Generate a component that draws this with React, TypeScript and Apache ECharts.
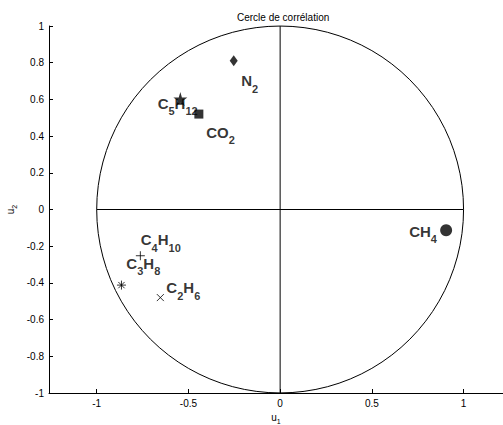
import React, { useEffect, useRef } from "react";
import * as echarts from "echarts";

// ---- data ----
const compounds = ["CH4", "N2", "CO2", "C2H6", "C3H8", "C4H10", "C5H12"];
const labelsRich = [
  "{m|CH}{s|4}",
  "{m|N}{s|2}",
  "{m|CO}{s|2}",
  "{m|C}{s|2}{m|H}{s|6}",
  "{m|C}{s|3}{m|H}{s|8}",
  "{m|C}{s|4}{m|H}{s|10}",
  "{m|C}{s|5}{m|H}{s|12}",
];
const u1 = [0.905, -0.253, -0.443, -0.653, -0.762, -0.865, -0.544];
const u2 = [-0.113, 0.81, 0.52, -0.48, -0.252, -0.412, 0.602];
const xTicks = [-1, -0.5, 0, 0.5, 1];
const circleData = [[0, 0, 1]];
const hLine = [[-1, 0], [1, 0]];
const vLine = [[0, -1], [0, 1]];

// ---- styles ----
const STAR = "path://M50,0 L61,35 L98,35 L68,57 L79,91 L50,70 L21,91 L32,57 L2,35 L39,35 Z";
const PLUS = "path://M5,0 L5,10 M0,5 L10,5";
const CROSS = "path://M0,0 L10,10 M0,10 L10,0";
const ASTER = "path://M5,0 L5,10 M0,5 L10,5 M1.5,1.5 L8.5,8.5 M1.5,8.5 L8.5,1.5";
const markerStyle: Record<string, any> = {
  CH4: { symbol: "circle", size: 12, filled: true, offset: [-37, 5] },
  N2: { symbol: "diamond", size: [8, 11], filled: true, offset: [7.5, 24] },
  CO2: { symbol: "rect", size: 9, filled: true, offset: [7.4, 22.4] },
  C2H6: { symbol: CROSS, size: 7, filled: false, offset: [6, -5.7] },
  C3H8: { symbol: PLUS, size: 9, filled: false, offset: [-14, 11.5] },
  C4H10: { symbol: ASTER, size: 9, filled: false, offset: [19.3, -41.6] },
  C5H12: { symbol: STAR, size: 14, filled: true, offset: [-22.7, 8.2] },
};

const FONT = "Liberation Sans, Arial, Helvetica, sans-serif";

const bigRich = {
  m: {
    fontSize: 15,
    fontWeight: "bold",
    fontFamily: FONT,
    color: "#000",
    lineHeight: 16,
    padding: [0, 0, 8, 0],
  },
  s: {
    fontSize: 11,
    fontWeight: "bold",
    fontFamily: FONT,
    color: "#000",
    lineHeight: 12,
    padding: [8, 0, 0, 0],
  },
};

const smallRich = {
  m: { fontSize: 10, color: "#000", fontFamily: FONT, lineHeight: 11, padding: [0, 0, 4, 0] },
  s: { fontSize: 7, color: "#000", fontFamily: FONT, lineHeight: 8, padding: [4, 0, 0, 0] },
};

export default function App() {
  const ref = useRef<HTMLDivElement>(null);
  useEffect(() => {
    document.body.style.margin = "0";
    if (!ref.current) return;
    const chart = echarts.init(ref.current, undefined, { renderer: "svg" });

    const scatterSeries = compounds.map((name, i) => {
      const st = markerStyle[name];
      return {
        type: "scatter",
        name,
        symbol: st.symbol,
        symbolSize: st.size,
        itemStyle: st.filled
          ? { color: "#000" }
          : { color: "none", borderColor: "#000", borderWidth: 1 },
        data: [[u1[i], u2[i]]],
        label: {
          show: true,
          position: "inside",
          align: "left",
          verticalAlign: "middle",
          offset: st.offset,
          formatter: labelsRich[i],
          color: "#000",
          rich: bigRich,
        },
        z: 5,
      };
    });

    chart.setOption({
      animation: false,
      backgroundColor: "#fff",
      textStyle: { fontFamily: FONT },
      title: {
        text: "Cercle de corrélation",
        left: 232,
        top: 7,
        textStyle: { fontSize: 10, fontWeight: "normal", color: "#000", fontFamily: FONT },
      },
      grid: { left: 49, right: 0, top: 26, bottom: 32, outerBoundsMode: "none", containLabel: false },
      xAxis: {
        type: "value",
        min: -1.26,
        max: 1.215,
        name: "{m|u}{s|1}",
        nameLocation: "middle",
        nameGap: 21,
        nameMoveOverlap: false,
        nameTextStyle: { rich: smallRich },
        axisLine: { onZero: false, lineStyle: { color: "#000", width: 1 } },
        axisTick: { inside: true, length: 4, lineStyle: { color: "#000" }, customValues: xTicks },
        axisLabel: { color: "#000", fontSize: 10, margin: 5, customValues: xTicks, fontFamily: FONT },
        splitLine: { show: false },
      },
      yAxis: {
        type: "value",
        min: -1,
        max: 1,
        interval: 0.2,
        name: "{m|u}{s|2}",
        nameLocation: "middle",
        nameGap: 31,
        nameMoveOverlap: false,
        nameTextStyle: { rich: smallRich },
        axisLine: { show: true, onZero: false, lineStyle: { color: "#000", width: 1 } },
        axisTick: { show: true, inside: true, length: 4, lineStyle: { color: "#000" } },
        axisLabel: { color: "#000", fontSize: 10, margin: 5, fontFamily: FONT },
        splitLine: { show: false },
      },
      series: [
        {
          type: "custom",
          data: circleData,
          silent: true,
          renderItem: (params: any, api: any) => {
            const c = api.coord([api.value(0), api.value(1)]);
            const r = api.size([api.value(2), 0])[0];
            return {
              type: "circle",
              shape: { cx: c[0], cy: c[1], r },
              style: { fill: "none", stroke: "#000", lineWidth: 1 },
            };
          },
          z: 2,
        },
        {
          type: "line",
          data: hLine,
          symbol: "none",
          lineStyle: { color: "#000", width: 1 },
          silent: true,
          z: 2,
        },
        {
          type: "line",
          data: vLine,
          symbol: "none",
          lineStyle: { color: "#000", width: 1 },
          silent: true,
          z: 2,
        },
        ...scatterSeries,
      ],
    });
    return () => chart.dispose();
  }, []);
  return <div ref={ref} style={{ width: 503, height: 425 }} />;
}
